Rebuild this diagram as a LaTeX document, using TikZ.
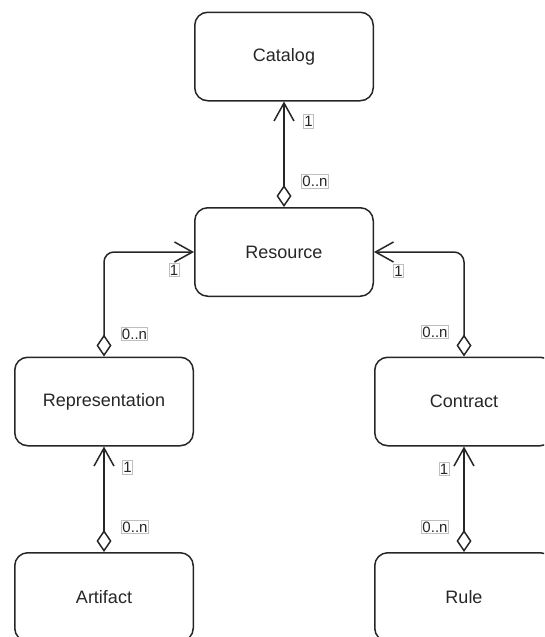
\documentclass[tikz,border=0pt]{standalone}
\usepackage{fontspec}
\setmainfont{Liberation Sans}
\usetikzlibrary{arrows.meta}

\tikzset{
  class/.style={draw=black!85, line width=1.5pt, rounded corners=13pt,
    minimum width=178.5pt, minimum height=88.5pt,
    font=\fontsize{18}{20}\selectfont, text=black!85},
  assoc/.style={draw=black!85, line width=1.5pt, rounded corners=10pt,
    {Diamond[open,length=22pt,width=15pt]}-{Straight Barb[length=18pt,width=20pt]}},
  mult/.style={draw=black!25, line width=0.8pt, fill=white,
    inner xsep=0.8pt, inner ysep=1.5pt,
    font=\fontsize{15}{17}\selectfont, text=black!85}
}

\begin{document}
\begin{tikzpicture}[x=1pt, y=-1pt]
\useasboundingbox (0,0) rectangle (544,637);
\clip (0,0) rectangle (544,637);
% classes
\foreach \id/\x/\y/\txt in {cat/284/56.5/Catalog, res/284/252/Resource,
  rep/104/401.5/Representation, con/464/401.5/Contract,
  art/104/597/Artifact, rule/464/597/Rule}
{
  \node[class] (\id) at (\x,\y) {\txt};
}
% associations, diamond on the part side
\draw[assoc] (res.north) -- (cat.south);
\draw[assoc] (rep.north) |- (res.west);
\draw[assoc] (con.north) |- (res.east);
\draw[assoc] (art.north) -- (rep.south);
\draw[assoc] (rule.north) -- (con.south);
% multiplicities
\foreach \id/\x/\y/\txt in {m1/308.5/121.5/1, m2/315/181.5/0..n,
  m3/174/270/1, m4/134.5/334/0..n,
  m5/398.5/271/1, m6/435/332/0..n,
  m7/127.5/467.5/1, m8/135/527/0..n,
  m9/444/469/1, m10/435/527/0..n}
{
  \node[mult] (\id) at (\x,\y) {\txt};
}
\end{tikzpicture}
\end{document}
